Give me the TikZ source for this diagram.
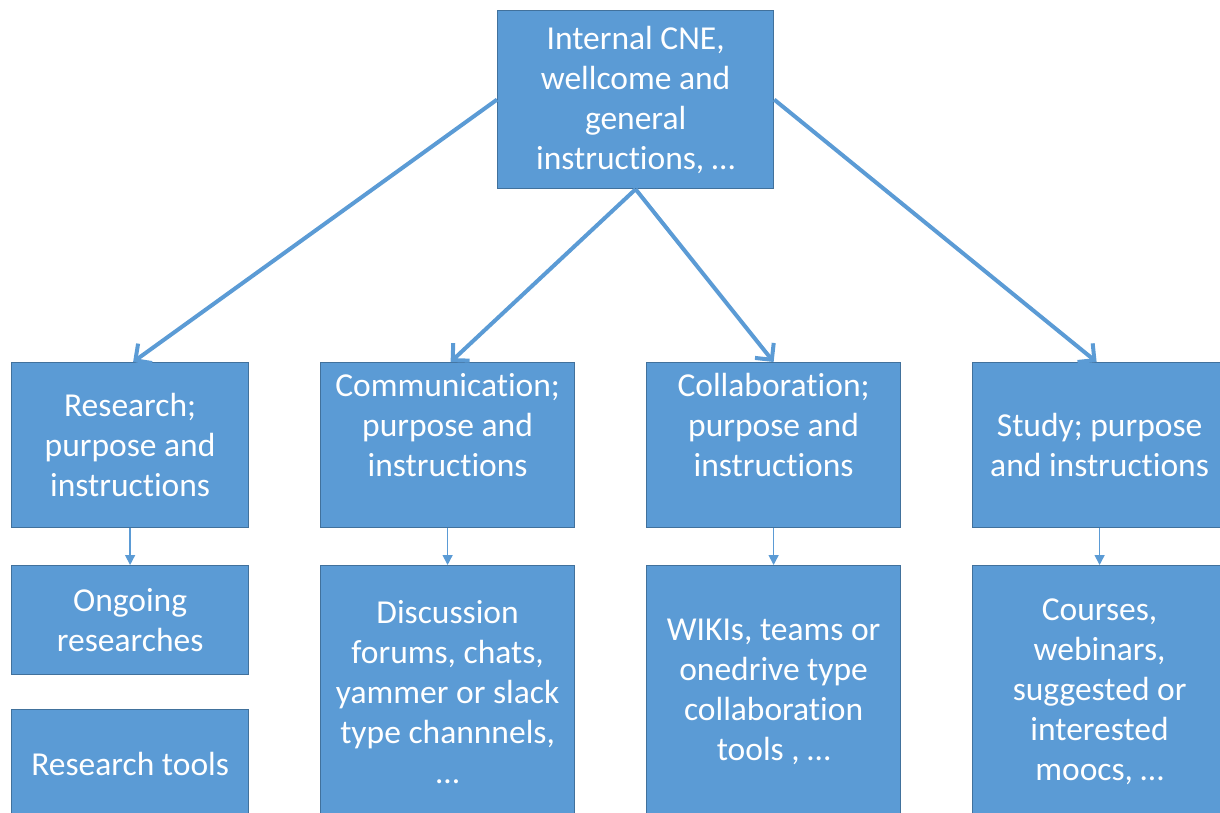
\documentclass[tikz,border=0pt]{standalone}
\usepackage{fontspec}
\setmainfont[Ligatures=NoCommon]{Carlito}
\usetikzlibrary{arrows.meta}
\definecolor{boxfill}{HTML}{5B9BD5}
\definecolor{boxline}{HTML}{41719C}
\begin{document}
\begin{tikzpicture}[x=1pt,y=-1pt,
  box/.style={draw=boxline, line width=1.2pt, fill=boxfill, text=white, align=center,
    font=\fontsize{33.5}{40}\selectfont, inner sep=0pt, anchor=north west},
  bigarrow/.style={draw=boxfill, line width=4pt, -{Straight Barb[length=12pt,width=24pt,line width=4pt]}},
  smallarrow/.style={draw=boxfill, line width=1.5pt, -{Triangle[length=10pt,width=10pt]}}]
\useasboundingbox (0,0) rectangle (1220,812);
\node[box, minimum width=276pt, minimum height=178pt] (top) at (497,10) {Internal CNE,\\wellcome and\\general\\instructions, …};
\node[box, minimum width=237pt, minimum height=165pt] (research) at (11,362) {Research;\\purpose and\\instructions};
\node[box, minimum width=254pt, minimum height=165pt] (comm) at (320,362) {Communication;\\purpose and\\instructions\\\mbox{}};
\node[box, minimum width=254pt, minimum height=165pt] (collab) at (646,362) {Collaboration;\\purpose and\\instructions\\\mbox{}};
\node[box, minimum width=254pt, minimum height=165pt] (study) at (972,362) {Study; purpose\\and instructions};
\node[box, minimum width=237pt, minimum height=109pt] (ongoing) at (11,565) {Ongoing\\researches};
\node[box, minimum width=237pt, minimum height=108pt] (tools) at (11,709) {Research tools};
\node[box, minimum width=254pt, minimum height=252pt] (disc) at (320,565) {Discussion\\forums, chats,\\yammer or slack\\type channnels,\\…};
\node[box, minimum width=254pt, minimum height=252pt] (wiki) at (646,565) {WIKIs, teams or\\onedrive type\\collaboration\\tools , …};
\node[box, minimum width=254pt, minimum height=252pt] (courses) at (972,565) {Courses,\\webinars,\\suggested or\\interested\\moocs, …};
\draw[bigarrow] (top.west) -- ([xshift=3pt]research.north);
\draw[bigarrow] (top.south) -- ([xshift=3pt]comm.north);
\draw[bigarrow] (top.south) -- (collab.north);
\draw[bigarrow] (top.east) -- ([xshift=-3pt]study.north);
\draw[smallarrow] (research.south) -- (ongoing.north);
\draw[smallarrow] (comm.south) -- (disc.north);
\draw[smallarrow] (collab.south) -- (wiki.north);
\draw[smallarrow] (study.south) -- (courses.north);
\end{tikzpicture}
\end{document}
